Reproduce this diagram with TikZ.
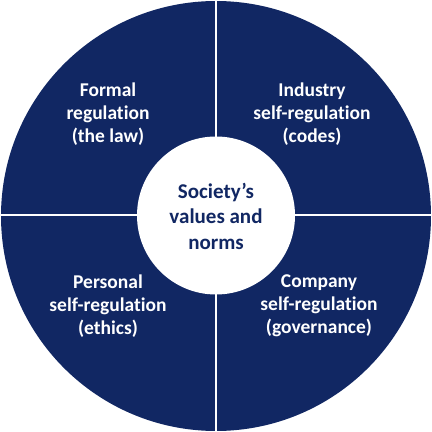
\documentclass[tikz,border=0pt]{standalone}
\usepackage{fontspec}
\setmainfont{Carlito}[RawFeature=-liga]
\definecolor{navy}{RGB}{17,39,99}
\begin{document}
\begin{tikzpicture}[x=1pt,y=1pt,
  quad/.style={text=white,align=center,font=\bfseries\fontsize{19.5}{23}\selectfont},
  core/.style={text=navy,align=center,font=\bfseries\fontsize{21}{25.5}\selectfont}]
\useasboundingbox (0,0) rectangle (432,432);
\fill[navy] (216,216) circle (215);
\coordinate (top) at (216,432);
\coordinate (bot) at (216,0);
\coordinate (lft) at (0,217);
\coordinate (rgt) at (432,217);
\begin{scope}
\clip (216,216) circle (215);
\draw[white,line width=2] (top) -- (bot);
\draw[white,line width=2] (lft) -- (rgt);
\end{scope}
\node[circle,fill=white,minimum size=158,inner sep=0] (c) at (216,216.5) {};
\node[core] (ctext) at (216,216) {Society’s\\values and\\norms};
\node[quad] (q1) at (108,318) {Formal\\regulation\\(the law)};
\node[quad] (q2) at (312,318) {Industry\\self-regulation\\(codes)};
\node[quad] (q3) at (108,126) {Personal\\self-regulation\\(ethics)};
\node[quad] (q4) at (319,126) {Company\\self-regulation\\(governance)};
\end{tikzpicture}
\end{document}
